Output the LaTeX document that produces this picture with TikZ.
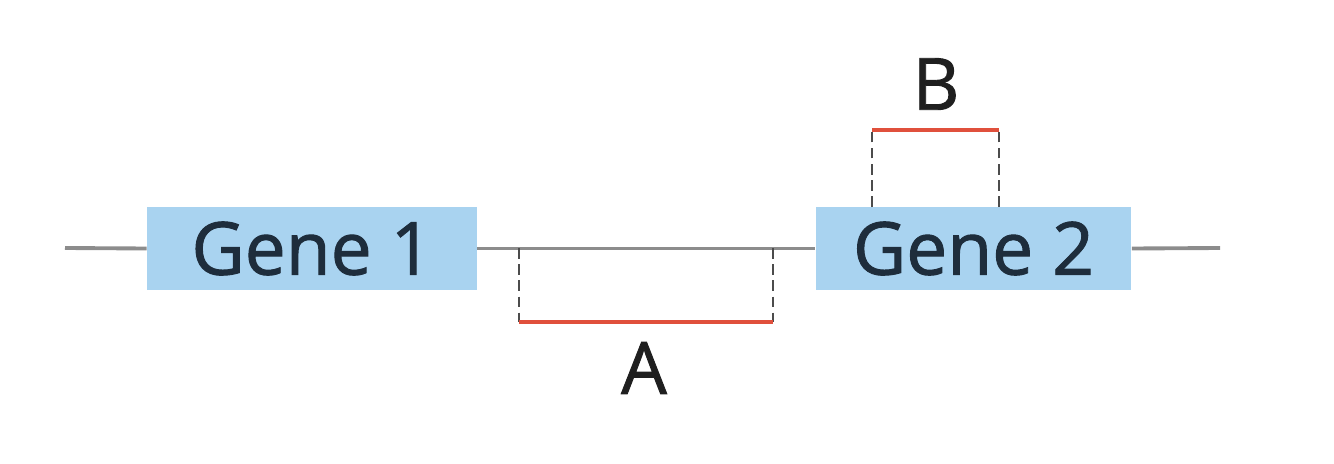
\documentclass[tikz,border=0pt]{standalone}
\usepackage{fontspec}
\setmainfont{Open Sans}
\newfontfamily\labelfont[FakeBold=1.3]{Open Sans}
\usepackage{xcolor}
\usepackage{tikz}
\definecolor{genefill}{HTML}{A9D3F0}
\definecolor{genetext}{HTML}{1E2D3C}
\definecolor{backbone}{HTML}{8C8C8C}
\definecolor{regionred}{HTML}{E0503C}

\begin{document}
\begin{tikzpicture}[x=0.01cm, y=-0.01cm,
    gene/.style={rectangle, fill=genefill, text=genetext, inner sep=0pt,
        minimum height=0.83cm, font=\labelfont\fontsize{20.8}{24}\selectfont},
    dnaline/.style={draw=backbone, line width=1.1pt},
    guide/.style={draw=black!70, line width=0.7pt, dash pattern=on 3pt off 1.6pt},
    region/.style={draw=regionred, line width=1.1pt},
    regionlabel/.style={text=black!88, font=\labelfont\fontsize{20.5}{24}\selectfont}]
    \useasboundingbox (0,0) rectangle (1334,464);

    % backbone ends
    \coordinate (left) at (65,248);
    \coordinate (right) at (1220,248);

    \node[gene, minimum width=3.29cm] (g1) at (312,248.5) {Gene 1};
    \node[gene, minimum width=3.15cm] (g2) at (973.5,248.5) {Gene 2};

    \draw[dnaline] (left) -- (g1.west);
    \draw[dnaline] (g1.east) -- (g2.west);
    \draw[dnaline] (g2.east) -- (right);

    % region A between the genes
    \coordinate (a1) at (519,248);
    \coordinate (a2) at (773,248);
    \coordinate (a3) at (519,322);
    \coordinate (a4) at (773,322);
    \draw[guide] (a1) -- (a3);
    \draw[guide] (a2) -- (a4);
    \draw[region] (a3) -- (a4);
    \node[regionlabel] (la) at (644,368) {A};

    % region B inside gene 2
    \coordinate (b1) at (872,207);
    \coordinate (b2) at (999,207);
    \coordinate (b3) at (872,130);
    \coordinate (b4) at (999,130);
    \draw[guide] (b1) -- (b3);
    \draw[guide] (b2) -- (b4);
    \draw[region] (b3) -- (b4);
    \node[regionlabel] (lb) at (936,84) {B};
\end{tikzpicture}
\end{document}
